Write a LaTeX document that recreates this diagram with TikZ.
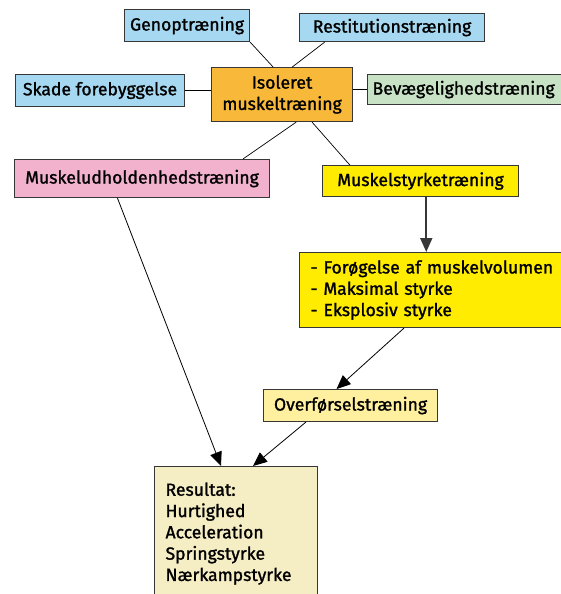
\documentclass[tikz,border=0pt]{standalone}
\usepackage{fontspec}
\setmainfont{Fira Sans}[FakeBold=1.3]
\usetikzlibrary{arrows.meta,calc}

\definecolor{skyblue}{RGB}{166,217,241}
\definecolor{amber}{RGB}{248,185,58}
\definecolor{sage}{RGB}{199,226,196}
\definecolor{rose}{RGB}{242,178,206}
\definecolor{lemon}{RGB}{255,236,0}
\definecolor{paleyellow}{RGB}{255,240,160}
\definecolor{cream}{RGB}{245,237,196}
\definecolor{edge}{RGB}{55,55,55}

\begin{document}
\begin{tikzpicture}[x=1pt,y=1pt,
  box/.style={draw=edge, line width=1.1pt, inner sep=0pt, anchor=north west,
              font=\fontsize{17.6}{21.3}\selectfont},
  link/.style={line width=0.7pt, black},
  arr/.style={-{Triangle[length=14pt,width=12pt]}, line width=0.8pt, black},
  thickarr/.style={-{Triangle[length=14pt,width=12pt]}, line width=1.8pt, edge}]
\useasboundingbox (0,0) rectangle (561,-594);
\clip (0,0) rectangle (561,-594);

% central hub and its satellites
\node[box, fill=amber, minimum width=141pt, minimum height=54pt, align=center]
  (iso) at (211,-67) {Isoleret\\muskeltræning};
\node[box, fill=skyblue, minimum width=125pt, minimum height=32pt]
  (geno) at (124,-9) {Genoptræning};
\node[box, fill=skyblue, minimum width=185pt, minimum height=28pt]
  (rest) at (299,-13) {Restitutionstræning};
\node[box, fill=skyblue, minimum width=169pt, minimum height=32pt]
  (skade) at (15,-74) {Skade forebyggelse};
\node[box, fill=sage, minimum height=30pt, text width=200pt, inner xsep=5pt, align=left]
  (bev) at (367,-74) {Bevægelighedstræning};

% training branches
\node[box, fill=rose, minimum width=255pt, minimum height=38pt]
  (mud) at (14,-159) {Muskeludholdenhedstræning};
\node[box, fill=lemon, minimum width=196pt, minimum height=31pt]
  (mst) at (322,-165) {Muskelstyrketræning};
\node[box, fill=lemon, minimum height=75pt, text width=270pt, inner xsep=11pt, align=left]
  (eff) at (299,-252) {- Forøgelse af muskelvolumen\\- Maksimal styrke\\- Eksplosiv styrke};
\node[box, fill=paleyellow, minimum width=174pt, minimum height=32pt]
  (ovf) at (263,-389) {Overførselstræning};
\node[box, fill=cream, inner xsep=11pt, inner ysep=0pt]
  (res) at (154,-466) {\parbox[t][150pt][t]{141pt}{\vspace{16pt}Resultat:\\Hurtighed\\Acceleration\\Springstyrke\\Nærkampstyrke}};

% plain links around the hub
\draw[link] (geno.south east) -- ($(iso.north west)!0.437!(iso.north east)$);
\draw[link] ($(rest.south west)!0.138!(rest.south east)$) -- ($(iso.north west)!0.572!(iso.north east)$);
\draw[link] (skade.east) -- (skade.east -| iso.west);
\draw[link] (bev.west) -- (bev.west -| iso.east);
\draw[link] ($(iso.south west)!0.60!(iso.south east)$) -- ($(mud.north west)!0.894!(mud.north east)$);
\draw[link] ($(iso.south west)!0.711!(iso.south east)$) -- ($(mst.north west)!0.141!(mst.north east)$);

% arrows towards the result
\coordinate (mstout) at ($(mst.south west)!0.529!(mst.south east)$);
\draw[thickarr] (mstout) -- (mstout |- eff.north);
\draw[arr] ($(eff.south west)+(105,0)$) -- ($(ovf.north west)!0.42!(ovf.north east)$);
\draw[arr] ($(ovf.south west)!0.245!(ovf.south east)$) -- ($(res.north west)+(99,0)$);
\draw[arr] ($(mud.south west)!0.404!(mud.south east)$) -- ($(res.north west)+(67,0)$);
\end{tikzpicture}
\end{document}
